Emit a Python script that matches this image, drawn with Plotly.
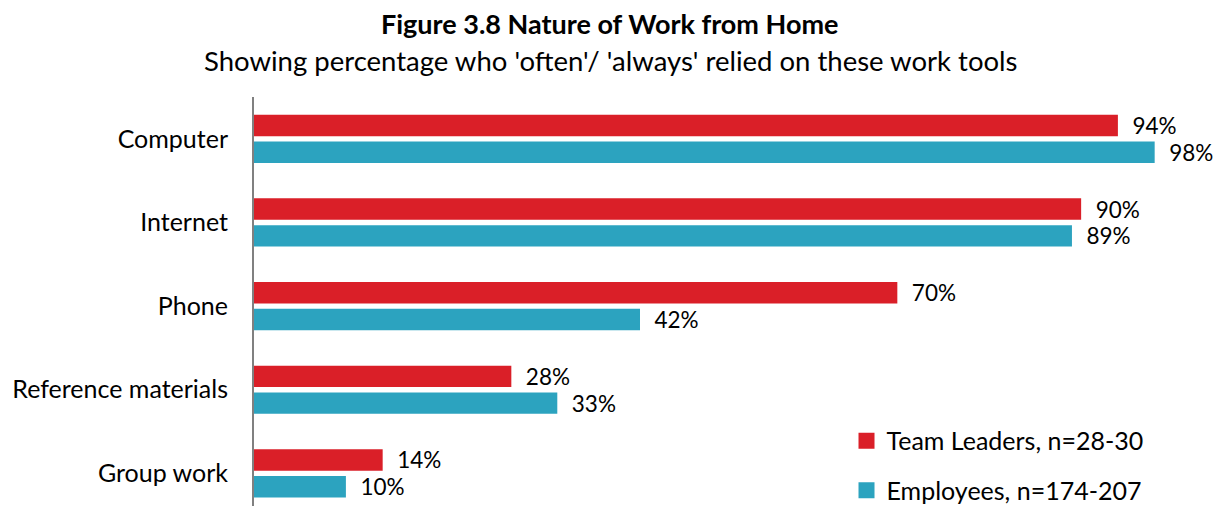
import plotly.graph_objects as go

categories = ["Computer", "Internet", "Phone", "Reference materials", "Group work"]
team_leaders = [94, 90, 70, 28, 14]
employees = [98, 89, 42, 33, 10]
series_names = ["Team Leaders, n=28-30", "Employees, n=174-207"]
title_text = "Figure 3.8 Nature of Work from Home"
subtitle_text = "Showing percentage who 'often'/ 'always' relied on these work tools"

FONT = "Lato, Carlito, Calibri, sans-serif"
RED = "#DA1F28"
TEAL = "#2CA3BF"
FS = 25
FS_LBL = 22.5

fig = go.Figure()
for name, vals, col in [(series_names[0], team_leaders, RED),
                        (series_names[1], employees, TEAL)]:
    fig.add_trace(go.Bar(
        y=categories, x=vals, orientation="h", name=name,
        marker=dict(color=col, line=dict(width=0)),
        text=vals, texttemplate="\u00a0\u00a0%{x}%", textposition="outside",
        constraintext="none",
        textfont=dict(family=FONT, size=FS_LBL, color="#000000"),
        cliponaxis=False, showlegend=False,
    ))

# legend entries with larger square swatches
for name, col, grp in [(series_names[0], RED, "a"), (series_names[1], TEAL, "b")]:
    fig.add_trace(go.Scatter(
        x=[None], y=[None], mode="markers", name=name, legendgroup=grp,
        marker=dict(symbol="square", size=16, color=col, line=dict(width=0)),
        showlegend=True,
    ))

fig.add_annotation(text="<b>" + title_text + "</b>", xref="paper", yref="paper",
                   x=0.368, y=1.18, xanchor="center", yanchor="middle", showarrow=False,
                   font=dict(family=FONT, size=27, color="#000000"))
fig.add_annotation(text=subtitle_text, xref="paper", yref="paper",
                   x=0.369, y=1.09, xanchor="center", yanchor="middle", showarrow=False,
                   font=dict(family=FONT, size=27.5, color="#000000"))

fig.update_layout(
    width=1215, height=498,
    margin=dict(l=246, r=4, t=89, b=0, autoexpand=False),
    paper_bgcolor="white", plot_bgcolor="white",
    barmode="group", bargap=0.36, bargroupgap=0.2,
    font=dict(family=FONT, size=FS, color="#000000"),
    showlegend=True,
    xaxis=dict(range=[0, 105], showgrid=False, showticklabels=False, zeroline=False,
               showline=False, ticks="", automargin=False),
    yaxis=dict(range=[4.39, -0.5], showgrid=False, showline=True, linecolor="#808080",
               linewidth=2, ticks="", ticklabelstandoff=19, automargin=False,
               tickfont=dict(family=FONT, size=FS, color="#000000")),
    legend=dict(x=0.614, xanchor="left", y=-0.017, yanchor="bottom",
                font=dict(family=FONT, size=FS, color="#000000"),
                tracegroupgap=14, traceorder="grouped", bgcolor="rgba(0,0,0,0)"),
)

fig.write_html("out.html")
